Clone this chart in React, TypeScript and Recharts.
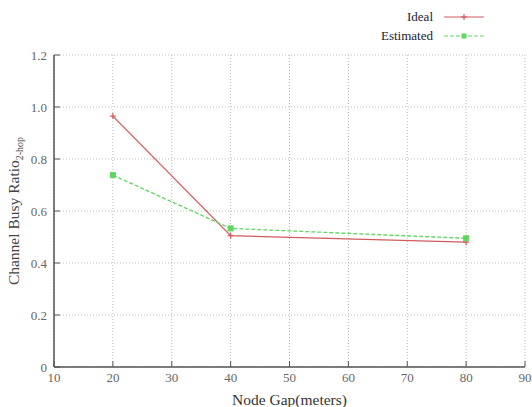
import React from 'react';
import { LineChart, Line, XAxis, YAxis, CartesianGrid } from 'recharts';

const nodeGaps = [20, 40, 80];
const idealValues = [0.965, 0.505, 0.48];
const estimatedValues = [0.738, 0.533, 0.495];
const xTicks = [10, 20, 30, 40, 50, 60, 70, 80, 90];
const yTicks = [0, 0.2, 0.4, 0.6, 0.8, 1.0, 1.2];

const data = nodeGaps.map((g, i) => ({ gap: g, ideal: idealValues[i], estimated: estimatedValues[i] }));

const RED = '#d25a5e';
const GREEN = '#5ed85e';
const AXIS = '#555';
const FONT = '"Liberation Serif", "DejaVu Serif", serif';

const BottomTick = (props: any) => {
  const { x, y, payload } = props;
  const ay = y - 6;
  return (
    <g>
      <line x1={x} y1={ay} x2={x} y2={ay - 6} stroke={AXIS} strokeWidth={1} />
      <text x={x} y={y} dy="0.71em" textAnchor="middle" fontFamily={FONT} fontSize={13} fill="#666">{payload.value}</text>
    </g>
  );
};

const TopTick = (props: any) => {
  const { x, y } = props;
  const ay = y + 2;
  return <line x1={x} y1={ay} x2={x} y2={ay + 6} stroke={AXIS} strokeWidth={1} />;
};

const LeftTick = (props: any) => {
  const { x, y, payload } = props;
  const ax = x + 6;
  const v = payload.value;
  const label = v === 0 ? '0' : v.toFixed(1);
  return (
    <g>
      <line x1={ax} y1={y} x2={ax + 6} y2={y} stroke={AXIS} strokeWidth={1} />
      <text x={x - 1} y={y} dy="0.355em" textAnchor="end" fontFamily={FONT} fontSize={13} fill="#666">{label}</text>
    </g>
  );
};

const RightTick = (props: any) => {
  const { x, y } = props;
  const ax = x - 2;
  return <line x1={ax} y1={y} x2={ax - 6} y2={y} stroke={AXIS} strokeWidth={1} />;
};

const PlusDot = (props: any) => {
  const { cx, cy } = props;
  if (cx == null || cy == null) return null;
  return (
    <g>
      <line x1={cx - 3} y1={cy} x2={cx + 3} y2={cy} stroke={RED} strokeWidth={1.2} />
      <line x1={cx} y1={cy - 3} x2={cx} y2={cy + 3} stroke={RED} strokeWidth={1.2} />
    </g>
  );
};

const SquareDot = (props: any) => {
  const { cx, cy } = props;
  if (cx == null || cy == null) return null;
  return <rect x={cx - 2.5} y={cy - 2.5} width={5} height={5} fill={GREEN} stroke={GREEN} />;
};

const LegendBox = () => (
  <svg width={532} height={50} style={{ position: 'absolute', left: 0, top: 0, display: 'block' }}>
    <text x={433} y={21} textAnchor="end" fontFamily={FONT} fontSize={13} fill="#223">Ideal</text>
    <line x1={444} y1={17} x2={484} y2={17} stroke={RED} strokeWidth={1.2} />
    <line x1={461} y1={17} x2={467} y2={17} stroke={RED} strokeWidth={1.2} />
    <line x1={464} y1={14} x2={464} y2={20} stroke={RED} strokeWidth={1.2} />
    <text x={433} y={40} textAnchor="end" fontFamily={FONT} fontSize={13} fill="#223">Estimated</text>
    <line x1={444} y1={36} x2={484} y2={36} stroke={GREEN} strokeWidth={1.2} strokeDasharray="4 2" />
    <rect x={461.5} y={33.5} width={5} height={5} fill={GREEN} />
  </svg>
);

const YLabel = (props: any) => {
  const { viewBox } = props;
  const cx = viewBox.x + 14;
  const cy = viewBox.y + viewBox.height / 2;
  return (
    <text transform={`translate(${cx},${cy}) rotate(-90)`} textAnchor="middle" fontFamily={FONT} fontSize={15.5} fill="#444" dy="0.35em">
      Channel Busy Ratio
      <tspan fontSize={10} dy={4}>2-hop</tspan>
    </text>
  );
};

const XLabel = (props: any) => {
  const { viewBox } = props;
  return (
    <text x={viewBox.x + viewBox.width / 2} y={viewBox.y + 38} textAnchor="middle" fontFamily={FONT} fontSize={15.5} fill="#333">
      Node Gap(meters)
    </text>
  );
};

export default function App() {
  return (
    <div style={{ position: 'absolute', left: 0, top: 0, width: 532, height: 407, background: '#fff', fontFamily: FONT }}>
      <LineChart width={532} height={407} data={data} margin={{ top: 55, right: 7, bottom: 0, left: 0 }} style={{ fontFamily: FONT }}>
        <CartesianGrid stroke="#bbb" strokeDasharray="1 2" xAxisId="bottom" yAxisId="left" />
        <XAxis
          xAxisId="bottom"
          dataKey="gap"
          type="number"
          domain={[10, 90]}
          ticks={xTicks}
          height={40}
          tickSize={0}
          tickMargin={6}
          tickLine={false}
          tick={<BottomTick />}
          axisLine={{ stroke: AXIS, strokeWidth: 1.5 }}
          label={<XLabel />}
          interval={0}
        />
        <XAxis
          xAxisId="top"
          orientation="top"
          dataKey="gap"
          type="number"
          domain={[10, 90]}
          ticks={xTicks}
          height={0}
          tickSize={0}
          tickMargin={2}
          tickLine={false}
          tick={<TopTick />}
          axisLine={{ stroke: AXIS, strokeWidth: 1.5 }}
          interval={0}
        />
        <YAxis
          yAxisId="left"
          type="number"
          domain={[0, 1.2]}
          ticks={yTicks}
          width={54}
          tickSize={0}
          tickMargin={6}
          tickLine={false}
          tick={<LeftTick />}
          axisLine={{ stroke: AXIS, strokeWidth: 1.5 }}
          label={<YLabel />}
          interval={0}
        />
        <YAxis
          yAxisId="right"
          orientation="right"
          type="number"
          domain={[0, 1.2]}
          ticks={yTicks}
          width={0}
          tickSize={0}
          tickMargin={2}
          tickLine={false}
          tick={<RightTick />}
          axisLine={{ stroke: AXIS, strokeWidth: 1.5 }}
          interval={0}
        />
        <Line
          xAxisId="bottom"
          yAxisId="left"
          type="linear"
          dataKey="ideal"
          name="Ideal"
          stroke={RED}
          strokeWidth={1.3}
          dot={<PlusDot />}
          activeDot={false}
          isAnimationActive={false}
        />
        <Line
          xAxisId="bottom"
          yAxisId="left"
          type="linear"
          dataKey="estimated"
          name="Estimated"
          stroke={GREEN}
          strokeWidth={1.3}
          strokeDasharray="4 2"
          dot={<SquareDot />}
          activeDot={false}
          isAnimationActive={false}
        />
      </LineChart>
      <LegendBox />
    </div>
  );
}
